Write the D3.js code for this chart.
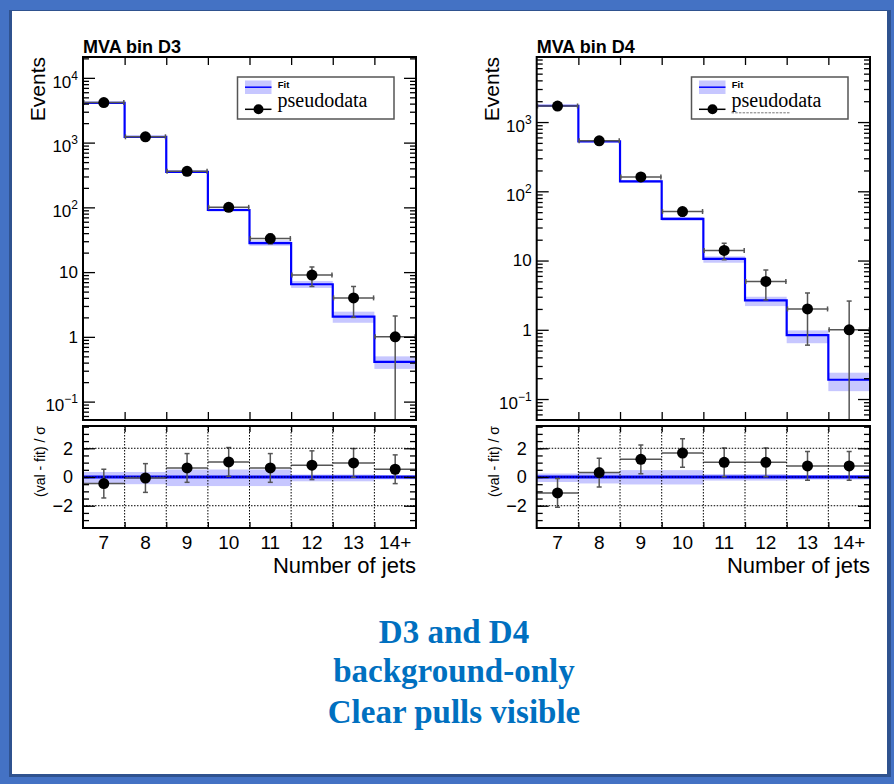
<!DOCTYPE html>
<html>
<head>
<meta charset="utf-8">
<script src="https://cdn.jsdelivr.net/npm/d3@7"></script>
<style>
  body { margin: 0; background: #4472C4; }
  svg { display: block; }
</style>
</head>
<body>
<svg id="chart" width="894" height="784"></svg>
<script>
// Jet-multiplicity bins shared by both MVA bins
const categories = ["7", "8", "9", "10", "11", "12", "13", "14+"];

// MVA bin D3: background-only fit, its uncertainty band and pseudodata
const fitD3     = [4100, 1230, 354, 91, 28, 6.5, 2.05, 0.41];
const fitLoD3   = [4000, 1200, 342, 86, 25.5, 5.7, 1.65, 0.32];
const fitHiD3   = [4200, 1260, 366, 96, 31, 7.3, 2.45, 0.50];
const dataD3    = [4150, 1230, 360, 100, 33, 9, 4, 1];
const dataUpD3  = [64, 35, 19, 10, 5.7, 3, 2, 1.1];
const dataDnD3  = [64, 35, 19, 10, 5.7, 3, 2, 1];
const pullD3    = [-0.46, -0.07, 0.63, 1.05, 0.63, 0.82, 0.98, 0.54];
const pullLoD3  = [-0.5, -0.5, -0.63, -0.63, -0.63, -0.3, -0.3, -0.16];
const pullHiD3  = [0.35, 0.35, 0.52, 0.52, 0.52, 0.17, 0.17, 0.12];

// MVA bin D4
const fitD4     = [1720, 525, 139, 40, 10.6, 2.66, 0.84, 0.19];
const fitLoD4   = [1680, 510, 133, 37.5, 9.3, 2.2, 0.64, 0.13];
const fitHiD4   = [1760, 540, 145, 42.5, 11.5, 3.0, 0.98, 0.24];
const dataD4    = [1700, 535, 161, 51, 14, 5, 2, 1];
const dataUpD4  = [41, 23, 12.7, 7.1, 3.7, 2.3, 1.4, 1.6];
const dataDnD4  = [41, 23, 12.7, 7.1, 3.7, 2.3, 1.4, 1];
const pullD4    = [-1.11, 0.31, 1.23, 1.67, 1.02, 1.02, 0.77, 0.77];
const pullLoD4  = [-0.35, -0.45, -0.52, -0.52, -0.25, -0.25, -0.18, -0.18];
const pullHiD4  = [0.24, 0.3, 0.48, 0.48, 0.2, 0.2, 0.14, 0.14];

// Pull axis labels and caption lines
const pullTicks = [-2, 0, 2];
const captionLines = ["D3 and D4", "background-only", "Clear pulls visible"];

const SANS = "'Liberation Sans', Arial, Helvetica, sans-serif";
const SERIF = "'Liberation Serif', 'Times New Roman', serif";
const ERR = "#555";

const svg = d3.select("#chart");

// slide frame
svg.append("rect").attr("x", 0).attr("y", 0).attr("width", 894).attr("height", 784).attr("fill", "#4472C4");
svg.append("rect").attr("x", 9).attr("y", 10).attr("width", 882).attr("height", 767).attr("fill", "#2F528F");
svg.append("rect").attr("x", 12).attr("y", 11).attr("width", 875).attr("height", 763).attr("fill", "#ffffff");

let clipId = 0;

function drawChart(o) {
  const left = o.left, right = o.right;
  const top = 57, upBot = 420, loTop = 426, loBot = 528;
  const g = svg.append("g");

  const x = d3.scaleBand().domain(categories).range([left, right]).padding(0);
  const bw = x.bandwidth();
  const edge = d3.scaleLinear().domain([0, categories.length]).range([left, right]);
  const edgeVals = d3.range(1, categories.length);
  const y = d3.scaleLog().domain(o.yDomain).range([upBot, top]);
  const yp = d3.scaleLinear().domain([-3.55, 3.55]).range([loBot, loTop]);

  // clip regions
  const cu = "clipU" + (++clipId), cl = "clipL" + clipId;
  const defs = g.append("defs");
  defs.append("clipPath").attr("id", cu).append("rect")
    .attr("x", left).attr("y", top).attr("width", right - left).attr("height", upBot - top);
  defs.append("clipPath").attr("id", cl).append("rect")
    .attr("x", left).attr("y", loTop).attr("width", right - left).attr("height", loBot - loTop);

  // ---------- upper panel ----------
  const up = g.append("g").attr("clip-path", `url(#${cu})`);
  up.selectAll("rect.band").data(categories).join("rect")
    .attr("x", c => x(c)).attr("width", bw)
    .attr("y", (c, i) => y(o.fitHi[i]))
    .attr("height", (c, i) => y(o.fitLo[i]) - y(o.fitHi[i]))
    .attr("fill", "#0000ff").attr("fill-opacity", 0.22);

  const stepPts = categories.flatMap((c, i) => [[x(c), y(o.fit[i])], [x(c) + bw, y(o.fit[i])]]);
  up.append("path").attr("d", d3.line()(stepPts))
    .attr("fill", "none").attr("stroke", "#0000ff").attr("stroke-width", 2.2);

  const yMin = o.yDomain[0];
  categories.forEach((c, i) => {
    const cx = x(c) + bw / 2, v = o.data[i];
    const yv = y(v), yt = y(v + o.dataUp[i]);
    const lowVal = v - o.dataDn[i];
    const yb = lowVal > yMin ? y(lowVal) : upBot + 5;
    const eg = up.append("g").attr("stroke", ERR).attr("stroke-width", 1.5);
    eg.append("line").attr("x1", x(c)).attr("x2", x(c) + bw).attr("y1", yv).attr("y2", yv);
    eg.append("line").attr("x1", cx).attr("x2", cx).attr("y1", yt).attr("y2", yb);
    eg.append("line").attr("x1", cx - 2.5).attr("x2", cx + 2.5).attr("y1", yt).attr("y2", yt);
    if (lowVal > yMin) eg.append("line").attr("x1", cx - 2.5).attr("x2", cx + 2.5).attr("y1", yb).attr("y2", yb);
    eg.append("line").attr("x1", x(c) + 0.8).attr("x2", x(c) + 0.8).attr("y1", yv - 2.5).attr("y2", yv + 2.5);
    eg.append("line").attr("x1", x(c) + bw - 0.8).attr("x2", x(c) + bw - 0.8).attr("y1", yv - 2.5).attr("y2", yv + 2.5);
    up.append("circle").attr("cx", cx).attr("cy", yv).attr("r", 5.5).attr("fill", "#000");
  });

  // log axis ticks
  const decades = [], minors = [];
  for (let k = -3; k <= 5; k++) {
    const d = Math.pow(10, k);
    if (d >= o.yDomain[0] && d <= o.yDomain[1]) decades.push(d);
    for (let m = 2; m <= 9; m++) {
      const v = m * d;
      if (v >= o.yDomain[0] && v <= o.yDomain[1]) minors.push(v);
    }
  }
  const noDomain = s => s.select(".domain").remove();
  const tickStyle = s => s.selectAll(".tick line").attr("stroke", "#000").attr("stroke-width", 1.3);

  const yl = g.append("g").attr("transform", `translate(${left},0)`)
    .call(d3.axisLeft(y).tickValues(decades).tickSize(-12).tickPadding(5))
    .call(noDomain).call(tickStyle);
  yl.selectAll(".tick text").each(function (d) {
    const t = d3.select(this);
    const e = Math.round(Math.log10(d));
    t.text(null).attr("font-family", SANS).attr("font-size", 17).attr("fill", "#000");
    if (e === 0) t.text("1");
    else if (e === 1) t.text("10");
    else {
      t.attr("dy", "0.55em");
      t.append("tspan").text("10");
      t.append("tspan").attr("dy", -8).attr("font-size", 12).text(e < 0 ? "\u2212" + (-e) : String(e));
    }
  });
  g.append("g").attr("transform", `translate(${left},0)`)
    .call(d3.axisLeft(y).tickValues(minors).tickSize(-6).tickFormat(""))
    .call(noDomain).call(tickStyle);
  g.append("g").attr("transform", `translate(${right},0)`)
    .call(d3.axisRight(y).tickValues(decades).tickSize(-12).tickFormat(""))
    .call(noDomain).call(tickStyle);
  g.append("g").attr("transform", `translate(${right},0)`)
    .call(d3.axisRight(y).tickValues(minors).tickSize(-6).tickFormat(""))
    .call(noDomain).call(tickStyle);
  g.append("g").attr("transform", `translate(0,${top})`)
    .call(d3.axisTop(edge).tickValues(edgeVals).tickSize(-8).tickFormat(""))
    .call(noDomain).call(tickStyle);
  g.append("g").attr("transform", `translate(0,${upBot})`)
    .call(d3.axisBottom(edge).tickValues(edgeVals).tickSize(-8).tickFormat(""))
    .call(noDomain).call(tickStyle);

  g.append("rect").attr("x", left).attr("y", top).attr("width", right - left).attr("height", upBot - top)
    .attr("fill", "none").attr("stroke", "#000").attr("stroke-width", 2);

  // legend
  const bx = right - 22 - 156.5, by = 77;
  const lg = g.append("g");
  lg.append("rect").attr("x", bx).attr("y", by).attr("width", 156.5).attr("height", 42)
    .attr("fill", "#fff").attr("stroke", "#555").attr("stroke-width", 1.5);
  lg.append("rect").attr("x", bx + 7.5).attr("y", by + 3.5).attr("width", 26.5).attr("height", 13.5)
    .attr("fill", "#0000ff").attr("fill-opacity", 0.22);
  lg.append("line").attr("x1", bx + 7.5).attr("x2", bx + 34).attr("y1", by + 10.2).attr("y2", by + 10.2)
    .attr("stroke", "#0000ff").attr("stroke-width", 1.5);
  lg.append("text").attr("x", bx + 40.3).attr("y", by + 11).attr("font-family", SANS)
    .attr("font-weight", "bold").attr("font-size", 9.5).text("Fit");
  lg.append("line").attr("x1", bx + 7.5).attr("x2", bx + 34).attr("y1", by + 32.3).attr("y2", by + 32.3)
    .attr("stroke", "#000").attr("stroke-width", 1.5);
  lg.append("circle").attr("cx", bx + 21).attr("cy", by + 32.3).attr("r", 5).attr("fill", "#000");
  if (o.legendTrace) {
    lg.append("line").attr("x1", bx + 40).attr("x2", bx + 98).attr("y1", by + 35.8).attr("y2", by + 35.8)
      .attr("stroke", "#777").attr("stroke-width", 1).attr("stroke-dasharray", "2.5,1.2");
  }
  lg.append("text").attr("x", bx + 40).attr("y", by + 30).attr("font-family", SERIF)
    .attr("font-size", 20).text("pseudodata");

  // ---------- lower (pull) panel ----------
  const lo = g.append("g").attr("clip-path", `url(#${cl})`);
  lo.selectAll("rect.pband").data(categories).join("rect")
    .attr("x", c => x(c)).attr("width", bw)
    .attr("y", (c, i) => yp(o.pullHi[i]))
    .attr("height", (c, i) => yp(o.pullLo[i]) - yp(o.pullHi[i]))
    .attr("fill", "#0000ff").attr("fill-opacity", 0.22);

  // dotted grid
  const grid = g.append("g").attr("stroke", "#000").attr("stroke-width", 1).attr("stroke-dasharray", "1.5,1.5");
  pullTicks.filter(v => v !== 0).forEach(v => {
    grid.append("line").attr("x1", left).attr("x2", right).attr("y1", yp(v)).attr("y2", yp(v));
  });
  edgeVals.forEach(e => {
    grid.append("line").attr("x1", edge(e)).attr("x2", edge(e)).attr("y1", loTop).attr("y2", loBot);
  });

  lo.append("line").attr("x1", left).attr("x2", right).attr("y1", yp(0)).attr("y2", yp(0))
    .attr("stroke", "#0000ff").attr("stroke-width", 3);
  lo.append("line").attr("x1", left).attr("x2", right).attr("y1", yp(0)).attr("y2", yp(0))
    .attr("stroke", "#000033").attr("stroke-width", 1).attr("stroke-dasharray", "1.5,1.5");

  categories.forEach((c, i) => {
    const cx = x(c) + bw / 2, v = o.pull[i];
    const yv = yp(v), yt = yp(v + 1), yb = yp(v - 1);
    const eg = lo.append("g").attr("stroke", ERR).attr("stroke-width", 1.5);
    eg.append("line").attr("x1", x(c)).attr("x2", x(c) + bw).attr("y1", yv).attr("y2", yv);
    eg.append("line").attr("x1", cx).attr("x2", cx).attr("y1", yt).attr("y2", yb);
    eg.append("line").attr("x1", cx - 2.5).attr("x2", cx + 2.5).attr("y1", yt).attr("y2", yt);
    eg.append("line").attr("x1", cx - 2.5).attr("x2", cx + 2.5).attr("y1", yb).attr("y2", yb);
    lo.append("circle").attr("cx", cx).attr("cy", yv).attr("r", 5.5).attr("fill", "#000");
  });

  const pMinor = d3.range(-3.5, 3.51, 0.5);
  g.append("g").attr("transform", `translate(${left},0)`)
    .call(d3.axisLeft(yp).tickValues(pullTicks).tickSize(-12).tickPadding(10))
    .call(noDomain).call(tickStyle)
    .call(s => s.selectAll(".tick text").attr("font-family", SANS).attr("font-size", 18).attr("fill", "#000"));
  g.append("g").attr("transform", `translate(${left},0)`)
    .call(d3.axisLeft(yp).tickValues(pMinor).tickSize(-6).tickFormat(""))
    .call(noDomain).call(tickStyle);
  g.append("g").attr("transform", `translate(${right},0)`)
    .call(d3.axisRight(yp).tickValues(pullTicks).tickSize(-12).tickFormat(""))
    .call(noDomain).call(tickStyle);
  g.append("g").attr("transform", `translate(${right},0)`)
    .call(d3.axisRight(yp).tickValues(pMinor).tickSize(-6).tickFormat(""))
    .call(noDomain).call(tickStyle);
  g.append("g").attr("transform", `translate(0,${loTop})`)
    .call(d3.axisTop(edge).tickValues(edgeVals).tickSize(-6).tickFormat(""))
    .call(noDomain).call(tickStyle);
  g.append("g").attr("transform", `translate(0,${loBot})`)
    .call(d3.axisBottom(edge).tickValues(edgeVals).tickSize(-6).tickFormat(""))
    .call(noDomain).call(tickStyle);
  g.append("g").attr("transform", `translate(0,${loBot})`)
    .call(d3.axisBottom(x).tickSize(0).tickPadding(8))
    .call(noDomain)
    .call(s => s.selectAll(".tick text").attr("font-family", SANS).attr("font-size", 19).attr("fill", "#000"));

  g.append("rect").attr("x", left).attr("y", loTop).attr("width", right - left).attr("height", loBot - loTop)
    .attr("fill", "none").attr("stroke", "#000").attr("stroke-width", 2);

  // titles
  g.append("text").attr("x", left).attr("y", 53).attr("font-family", SANS).attr("font-weight", "bold")
    .attr("font-size", 18).text(o.title);
  g.append("text").attr("transform", `translate(${left - 38},${top}) rotate(-90)`)
    .attr("text-anchor", "end").attr("font-family", SANS).attr("font-size", 21).text("Events");
  g.append("text").attr("transform", `translate(${left - 38},${loTop}) rotate(-90)`)
    .attr("text-anchor", "end").attr("font-family", SANS).attr("font-size", 14).text("(val - fit) / \u03c3");
  g.append("text").attr("x", right).attr("y", 573).attr("text-anchor", "end")
    .attr("font-family", SANS).attr("font-size", 22).text("Number of jets");
}

drawChart({
  title: "MVA bin D3", left: 83, right: 416, yDomain: [0.052, 21000],
  fit: fitD3, fitLo: fitLoD3, fitHi: fitHiD3,
  data: dataD3, dataUp: dataUpD3, dataDn: dataDnD3,
  pull: pullD3, pullLo: pullLoD3, pullHi: pullHiD3, legendTrace: false
});
drawChart({
  title: "MVA bin D4", left: 536.7, right: 870, yDomain: [0.0498, 8700],
  fit: fitD4, fitLo: fitLoD4, fitHi: fitHiD4,
  data: dataD4, dataUp: dataUpD4, dataDn: dataDnD4,
  pull: pullD4, pullLo: pullLoD4, pullHi: pullHiD4, legendTrace: true
});

// caption
const baselines = [643, 682, 723];
svg.append("g").selectAll("text").data(captionLines).join("text")
  .attr("x", 454).attr("y", (d, i) => baselines[i])
  .attr("text-anchor", "middle").attr("font-family", SERIF).attr("font-weight", "bold")
  .attr("font-size", 33).attr("fill", "#0070C0").text(d => d);
</script>
</body>
</html>
